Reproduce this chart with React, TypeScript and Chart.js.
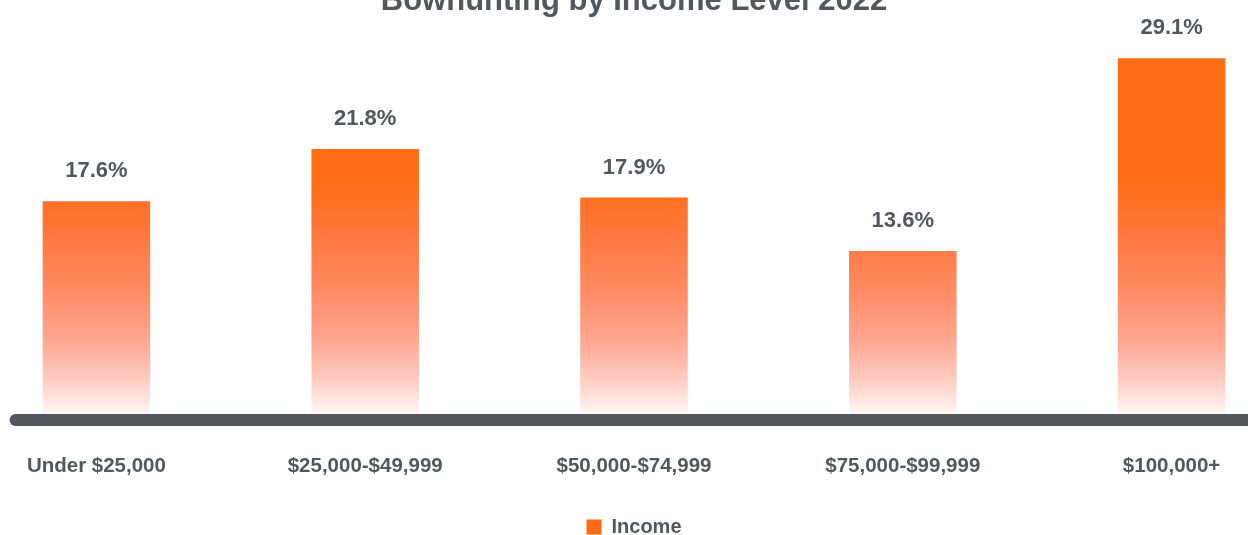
import React, { useEffect, useRef } from "react";
import { Chart, registerables } from "chart.js";

Chart.register(...registerables);

// ---- data ----
const categories = [
  "Under $25,000",
  "$25,000-$49,999",
  "$50,000-$74,999",
  "$75,000-$99,999",
  "$100,000+",
];
const values = [17.6, 21.8, 17.9, 13.6, 29.1];
const seriesLabel = "Income";
const titleText = "Bowhunting by Income Level 2022";
const yMin = 0;
const yMax = 30;

// ---- styles ----
const ORANGE = "#FF6B12";
const TEXT = "#54575E";
const AXIS = "#53565C";
const FONT = "'Liberation Sans', Arial, Helvetica, sans-serif";
const GRADIENT_TOP_VALUE = 19.2;
const GRADIENT_STOPS: [number, string][] = [
  [0, "#FF6D14"],
  [0.2, "#FF7638"],
  [0.45, "#FF8A62"],
  [0.65, "#FFA38C"],
  [0.8, "#FFC4B6"],
  [0.92, "#FFE6E0"],
  [1, "#FFFFFF"],
];

const decorPlugin = {
  id: "decor",
  afterDatasetsDraw(chart: any) {
    const { ctx, chartArea, scales } = chart;
    const y0 = scales.y.getPixelForValue(0);
    ctx.save();
    ctx.strokeStyle = AXIS;
    ctx.lineWidth = 12;
    ctx.lineCap = "round";
    ctx.beginPath();
    ctx.moveTo(chartArea.left + 53.5, y0);
    ctx.lineTo(chartArea.right - 53.5, y0);
    ctx.stroke();

    const meta = chart.getDatasetMeta(0);
    ctx.font = `bold 22px ${FONT}`;
    ctx.fillStyle = TEXT;
    ctx.textAlign = "center";
    ctx.textBaseline = "middle";
    meta.data.forEach((el: any, i: number) => {
      ctx.fillText(`${values[i].toFixed(1)}%`, el.x, el.y - 30);
    });
    ctx.restore();
  },
};

export default function App() {
  const ref = useRef<HTMLCanvasElement>(null);

  useEffect(() => {
    if (!ref.current) return;
    const chart = new Chart(ref.current, {
      type: "bar",
      data: {
        labels: categories,
        datasets: [
          {
            label: seriesLabel,
            data: values,
            categoryPercentage: 0.8,
            barPercentage: 0.5,
            borderWidth: 0,
            backgroundColor: (c: any) => {
              const ch = c.chart;
              if (!ch.chartArea) return ORANGE;
              const ys = ch.scales.y;
              const g = ch.ctx.createLinearGradient(
                0,
                ys.getPixelForValue(GRADIENT_TOP_VALUE),
                0,
                ys.getPixelForValue(0)
              );
              GRADIENT_STOPS.forEach(([o, col]) => g.addColorStop(o, col));
              return g;
            },
          },
        ],
      },
      options: {
        responsive: false,
        animation: false,
        events: [],
        layout: { padding: { left: 22, right: 22, top: 0, bottom: 0 } },
        plugins: {
          title: {
            display: true,
            text: titleText,
            color: TEXT,
            font: { family: FONT, size: 31, weight: "bold" },
            padding: { top: 0, bottom: 26.9 },
          },
          legend: {
            position: "bottom",
            labels: {
              boxWidth: 15,
              boxHeight: 15,
              padding: 10,
              color: TEXT,
              font: { family: FONT, size: 20, weight: "bold" },
              generateLabels: () => [
                {
                  text: seriesLabel,
                  fillStyle: ORANGE,
                  strokeStyle: ORANGE,
                  lineWidth: 0,
                  hidden: false,
                  datasetIndex: 0,
                  fontColor: TEXT,
                },
              ],
            },
          },
          tooltip: { enabled: false },
        },
        scales: {
          x: {
            grid: { display: false, drawTicks: false },
            border: { display: false },
            ticks: {
              color: TEXT,
              font: { family: FONT, size: 20.5, weight: "bold" },
              padding: 34,
              maxRotation: 0,
              autoSkip: false,
            },
            afterFit: (s: any) => {
              s.height = 87;
            },
          },
          y: { display: false, min: yMin, max: yMax },
        },
      },
      plugins: [decorPlugin],
    } as any);
    return () => chart.destroy();
  }, []);

  return (
    <div
      style={{
        position: "fixed",
        left: 0,
        top: 0,
        width: 1248,
        height: 535,
        overflow: "hidden",
        background: "#fff",
      }}
    >
      <div style={{ position: "absolute", left: -60, top: -17 }}>
        <canvas ref={ref} width={1388} height={564} />
      </div>
    </div>
  );
}
